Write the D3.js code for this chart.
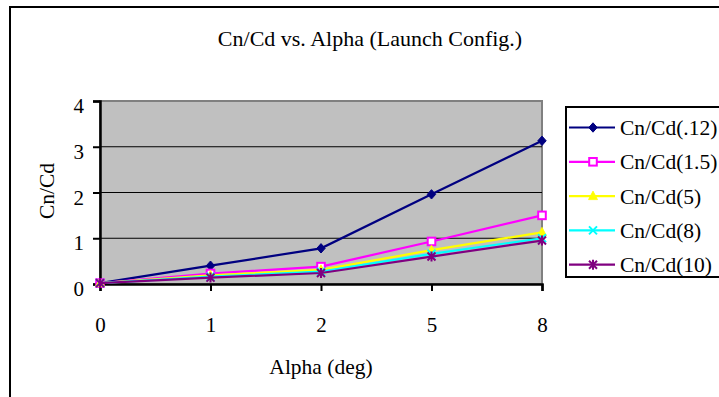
<!DOCTYPE html>
<html>
<head>
<meta charset="utf-8">
<script src="https://cdn.jsdelivr.net/npm/d3@7"></script>
<style>
  html, body { margin: 0; padding: 0; background: #fff; }
  svg { display: block; }
  text { font-family: "Liberation Serif", "Times New Roman", serif; fill: #000; }
</style>
</head>
<body>
<svg id="chart" width="719" height="397"></svg>
<script>
const categories = ["0", "1", "2", "5", "8"];
const seriesNames = ["Cn/Cd(.12)", "Cn/Cd(1.5)", "Cn/Cd(5)", "Cn/Cd(8)", "Cn/Cd(10)"];
const s012 = [0.02, 0.40, 0.78, 1.96, 3.13];
const s15  = [0.02, 0.23, 0.38, 0.93, 1.50];
const s5   = [0.02, 0.19, 0.31, 0.74, 1.13];
const s8   = [0.02, 0.16, 0.27, 0.66, 1.00];
const s10  = [0.02, 0.14, 0.24, 0.60, 0.95];
const yTicks = [0, 1, 2, 3, 4];
const colors = ["#000080", "#FF00FF", "#FFFF00", "#00FFFF", "#800080"];
const markers = ["diamond", "square", "triangle", "x", "asterisk"];
const seriesValues = [s012, s15, s5, s8, s10];

const svg = d3.select("#chart");

// outer frame
svg.append("rect").attr("x", 10).attr("y", 7).attr("width", 760).attr("height", 420)
  .attr("fill", "#fff").attr("stroke", "#000").attr("stroke-width", 2);

const L = 100, R = 542, T = 101, B = 284;
const x = d3.scalePoint().domain(categories).range([L, R]);
const y = d3.scaleLinear().domain([0, 4]).range([B, T]);

// plot area
svg.append("rect").attr("x", L).attr("y", T).attr("width", R - L).attr("height", B - T)
  .attr("fill", "#C0C0C0").attr("stroke", "#808080").attr("stroke-width", 2);

// gridlines
svg.append("g").selectAll("line").data(yTicks.filter(d => d > 0 && d < 4)).join("line")
  .attr("x1", L).attr("x2", R).attr("y1", d => y(d)).attr("y2", d => y(d))
  .attr("stroke", "#000").attr("stroke-width", 1.2);

// y axis
const yAxis = svg.append("g").attr("transform", `translate(${L},0)`)
  .call(d3.axisLeft(y).tickValues(yTicks).tickSize(7).tickPadding(9).tickFormat(d3.format("d")));
yAxis.select(".domain").attr("stroke", "#000").attr("stroke-width", 2.5);
yAxis.selectAll(".tick line").attr("stroke", "#000").attr("stroke-width", 2);
yAxis.selectAll(".tick text").attr("font-size", 21).attr("font-family", "Liberation Serif")
  .attr("dy", "0.55em").attr("y", 0).attr("fill", "#000");

// x axis
const xAxis = svg.append("g").attr("transform", `translate(0,${B})`)
  .call(d3.axisBottom(x).tickSize(7).tickPadding(26));
xAxis.select(".domain").attr("stroke", "#000").attr("stroke-width", 2.5);
xAxis.selectAll(".tick line").attr("stroke", "#000").attr("stroke-width", 2);
xAxis.selectAll(".tick text").attr("font-size", 21).attr("font-family", "Liberation Serif").attr("fill", "#000");

// markers
function drawMarker(g, type, color, cx, cy) {
  const s = 4.2;
  if (type === "diamond") {
    g.append("path").attr("d", `M${cx},${cy - s - 0.5}L${cx + s},${cy}L${cx},${cy + s + 0.5}L${cx - s},${cy}Z`)
      .attr("fill", color).attr("stroke", color).attr("stroke-width", 1);
  } else if (type === "square") {
    g.append("rect").attr("x", cx - 3.8).attr("y", cy - 3.8).attr("width", 7.6).attr("height", 7.6)
      .attr("fill", "#fff").attr("stroke", color).attr("stroke-width", 2);
  } else if (type === "triangle") {
    g.append("path").attr("d", `M${cx},${cy - 5}L${cx + 4.5},${cy + 3.5}L${cx - 4.5},${cy + 3.5}Z`)
      .attr("fill", color).attr("stroke", color).attr("stroke-width", 0.8);
  } else if (type === "x") {
    g.append("path").attr("d", `M${cx - 4},${cy - 4}L${cx + 4},${cy + 4}M${cx - 4},${cy + 4}L${cx + 4},${cy - 4}`)
      .attr("stroke", color).attr("stroke-width", 2).attr("fill", "none");
  } else if (type === "asterisk") {
    g.append("path").attr("d", `M${cx - 4},${cy - 4}L${cx + 4},${cy + 4}M${cx - 4},${cy + 4}L${cx + 4},${cy - 4}M${cx},${cy - 5}L${cx},${cy + 5}`)
      .attr("stroke", color).attr("stroke-width", 2).attr("fill", "none");
  }
}

const line = d3.line().x((d, i) => x(categories[i])).y(d => y(d));
seriesValues.forEach((vals, si) => {
  const g = svg.append("g");
  g.append("path").datum(vals).attr("d", line).attr("fill", "none")
    .attr("stroke", colors[si]).attr("stroke-width", 2.2);
  vals.forEach((v, i) => drawMarker(g, markers[si], colors[si], x(categories[i]), y(v)));
});

// title
svg.append("text").attr("x", 370).attr("y", 46).attr("text-anchor", "middle")
  .attr("font-size", 22).text("Cn/Cd vs. Alpha (Launch Config.)");

// axis titles
svg.append("text").attr("x", 321).attr("y", 374).attr("text-anchor", "middle")
  .attr("font-size", 21.5).text("Alpha (deg)");
svg.append("text").attr("transform", "translate(54,191) rotate(-90)").attr("text-anchor", "middle")
  .attr("font-size", 21.5).text("Cn/Cd");

// legend
const lg = svg.append("g");
lg.append("rect").attr("x", 566).attr("y", 107).attr("width", 200).attr("height", 170)
  .attr("fill", "#fff").attr("stroke", "#000").attr("stroke-width", 2);
seriesNames.forEach((name, i) => {
  const ly = 127.5 + i * 34.3;
  lg.append("line").attr("x1", 569).attr("x2", 615).attr("y1", ly).attr("y2", ly)
    .attr("stroke", colors[i]).attr("stroke-width", 2.2);
  drawMarker(lg, markers[i], colors[i], 593, ly);
  lg.append("text").attr("x", 620).attr("y", ly + 7.5).attr("font-size", 21.5).text(name);
});
</script>
</body>
</html>
